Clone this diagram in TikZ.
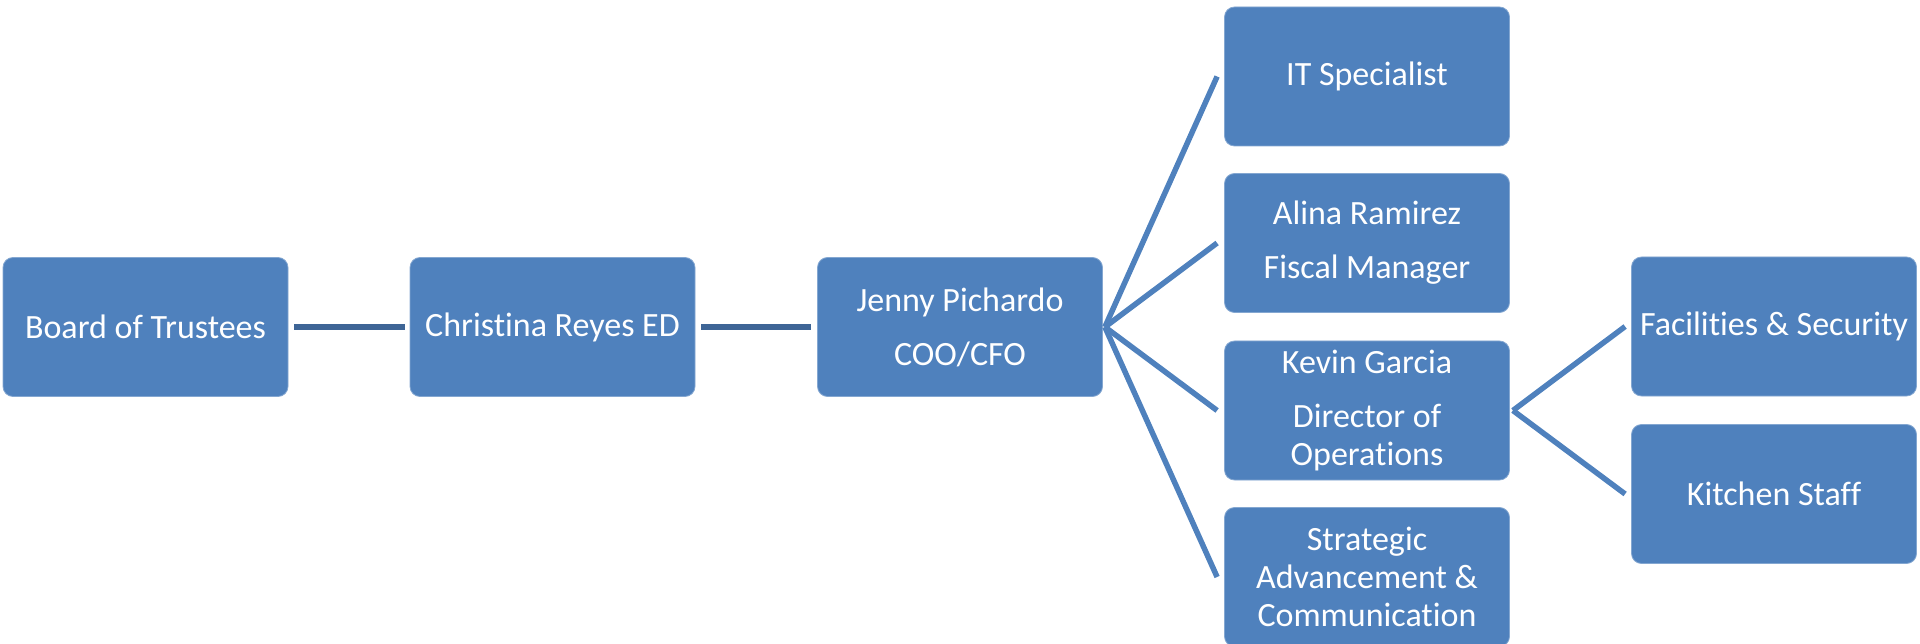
\documentclass[tikz,border=0pt]{standalone}
\usepackage{fontspec}
\setmainfont{Carlito}[Ligatures=NoCommon]
\definecolor{boxblue}{HTML}{4F81BD}
\definecolor{linkdark}{HTML}{3E6596}
\begin{document}
\begin{tikzpicture}[x=1pt,y=-1pt,
  orgbox/.style={fill=boxblue, draw=boxblue!70!white, line width=0.8pt,
    rounded corners=10pt, minimum width=285pt, minimum height=139pt,
    inner sep=0pt, align=center, text=white,
    font=\fontsize{34}{38}\selectfont},
  chainlink/.style={draw=linkdark, line width=6pt},
  fanlink/.style={draw=boxblue, line width=5.5pt}]
\useasboundingbox (0,0) rectangle (1920,644);
\begin{scope}
\clip (0,0) rectangle (1920,644);
% first level chain
\node[orgbox] (board) at (145.5,327) {Board of Trustees};
\node[orgbox] (ed) at (552.5,327) {Christina Reyes ED};
\node[orgbox] (coo) at (960,327) {Jenny Pichardo\\[16pt]COO/CFO};
% reports of the COO/CFO
\node[orgbox] (it) at (1367,76.5) {IT Specialist};
\node[orgbox] (fiscal) at (1367,243) {Alina Ramirez\\[16pt]Fiscal Manager};
\node[orgbox] (ops) at (1367,410.5) {Kevin Garcia\\[16pt]Director of\\Operations};
\node[orgbox] (comm) at (1367,577) {Strategic\\Advancement \&\\Communication};
% reports of the director of operations
\node[orgbox] (fac) at (1774,326.5) {Facilities \& Security};
\node[orgbox] (kitchen) at (1774,494) {Kitchen Staff};
\end{scope}
% connectors
\draw[chainlink] ([xshift=6pt]board.east) -- ([xshift=-5pt]ed.west);
\draw[chainlink] ([xshift=6pt]ed.east) -- ([xshift=-6pt]coo.west);
\coordinate (cooFan) at ([xshift=2pt]coo.east);
\foreach \t in {it,fiscal,ops,comm}
  \draw[fanlink, line join=miter] (cooFan) -- ([xshift=-7pt]\t.west);
\coordinate (opsFan) at ([xshift=3pt]ops.east);
\foreach \t in {fac,kitchen}
  \draw[fanlink] (opsFan) -- ([xshift=-6pt]\t.west);
\end{tikzpicture}
\end{document}
